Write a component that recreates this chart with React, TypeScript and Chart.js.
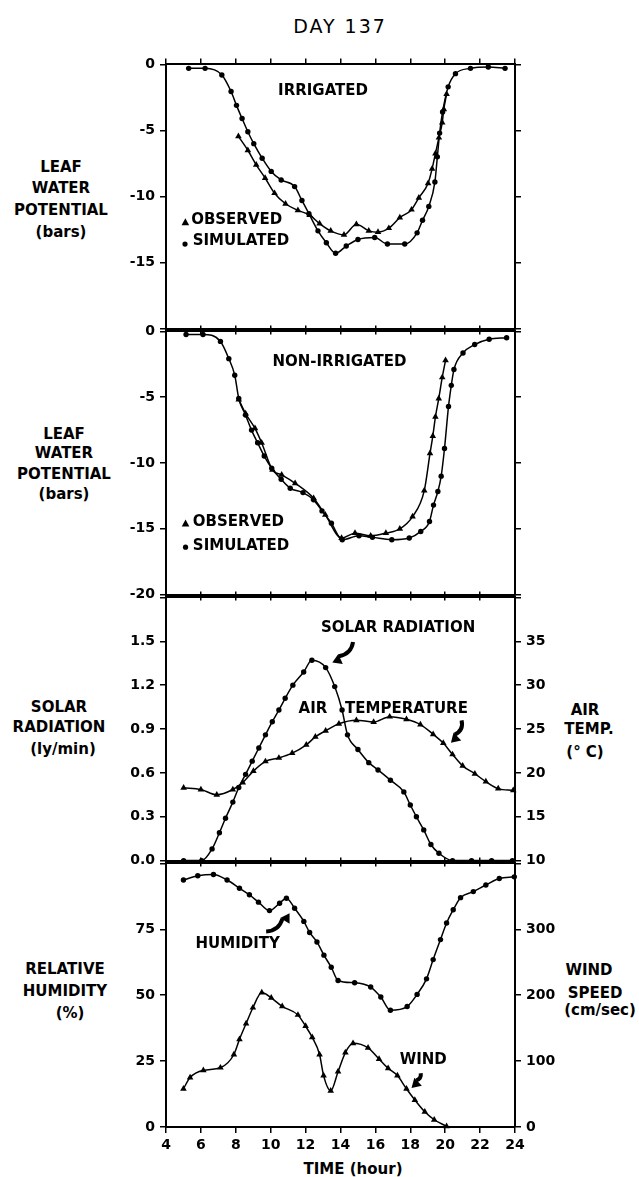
import React, { useEffect, useRef } from "react";
import { Chart, registerables } from "chart.js";
Chart.register(...registerables);

const FONT = '"DejaVu Sans", sans-serif';

// ---------- axes ----------
const HOUR_TICKS = [4, 6, 8, 10, 12, 14, 16, 18, 20, 22, 24];
const HOUR_LABELS = ["4", "6", "8", "10", "12", "14", "16", "18", "20", "22", "24"];
const LWP_TICKS = [0, -5, -10, -15, -20];
const LWP_LABELS_IRR = ["0", "-5", "-10", "-15", ""];
const LWP_LABELS_NON = ["0", "-5", "-10", "-15", "-20"];
const SOLAR_TICKS = [0, 0.3, 0.6, 0.9, 1.2, 1.5, 1.8];
const SOLAR_LABELS = ["0.0", "0.3", "0.6", "0.9", "1.2", "1.5", ""];
const TEMP_TICKS = [10, 15, 20, 25, 30, 35, 40];
const TEMP_LABELS = ["10", "15", "20", "25", "30", "35", ""];
const RH_TICKS = [0, 25, 50, 75, 100];
const RH_LABELS = ["0", "25", "50", "75", ""];
const WIND_TICKS = [0, 100, 200, 300, 400];
const WIND_LABELS = ["0", "100", "200", "300", ""];

// ---------- panel 1: irrigated ----------
const irrSimHour = [5.3, 6.24, 7.2, 7.73, 8.04, 8.36, 8.69, 9.03, 9.51, 10.03, 10.6, 11.37, 11.79, 12.19, 12.71, 13.19, 13.72, 14.33, 15.0, 15.96, 16.69, 17.68, 18.39, 18.7, 19.06, 19.41, 19.55, 19.68, 19.85, 20.17, 20.59, 21.45, 22.47, 23.43];
const irrSimLwp = [-0.3, -0.3, -0.8, -2.05, -3.1, -4.1, -5.1, -6.0, -7.1, -8.1, -8.75, -9.25, -10.3, -11.3, -12.6, -13.5, -14.3, -13.75, -13.25, -13.1, -13.6, -13.6, -12.75, -11.8, -10.75, -8.9, -7.0, -5.2, -3.6, -1.7, -0.7, -0.3, -0.2, -0.3];
const irrObsHour = [8.15, 8.69, 9.17, 9.68, 10.22, 10.85, 11.56, 12.23, 12.8, 13.44, 14.2, 14.91, 15.62, 16.15, 16.77, 17.4, 18.07, 18.49, 19.02, 19.25, 19.44, 19.64, 19.83, 19.92, 20.08];
const irrObsLwp = [-5.45, -6.5, -7.6, -8.6, -9.75, -10.55, -11.05, -11.4, -12.05, -12.6, -12.9, -12.1, -12.6, -12.7, -12.4, -11.6, -11.0, -10.1, -9.0, -7.9, -6.75, -5.55, -4.4, -3.4, -2.25];

// ---------- panel 2: non-irrigated ----------
const nonSimHour = [5.15, 6.12, 7.12, 7.6, 7.94, 8.17, 8.56, 8.9, 9.25, 9.63, 10.06, 10.6, 11.12, 11.85, 12.46, 12.94, 13.48, 14.1, 15.06, 15.83, 16.94, 17.94, 18.6, 19.1, 19.33, 19.58, 19.77, 19.96, 20.19, 20.35, 20.5, 21.02, 21.69, 22.52, 23.52];
const nonSimLwp = [-0.23, -0.23, -0.76, -2.07, -3.33, -5.1, -6.36, -7.5, -8.46, -9.47, -10.4, -11.24, -11.92, -12.25, -12.8, -13.64, -14.57, -15.83, -15.53, -15.65, -15.83, -15.7, -15.2, -14.44, -13.2, -12.17, -11.0, -8.9, -5.7, -4.1, -2.9, -1.64, -1.0, -0.6, -0.48];
const nonObsHour = [8.17, 8.56, 9.1, 9.48, 10.1, 10.63, 11.4, 12.46, 13.13, 14.06, 14.83, 15.73, 16.6, 17.4, 18.13, 18.8, 19.13, 19.29, 19.44, 19.63, 19.83, 20.02];
const nonObsLwp = [-5.18, -6.24, -7.37, -8.46, -10.53, -10.9, -11.54, -12.68, -13.94, -15.7, -15.33, -15.53, -15.33, -15.0, -14.07, -12.1, -9.27, -7.95, -6.49, -5.1, -3.5, -2.2];

// ---------- panel 3: solar radiation & air temperature ----------
const solarHour = [5.01, 6.05, 6.64, 7.06, 7.41, 7.83, 8.17, 8.56, 8.94, 9.32, 9.7, 10.09, 10.47, 10.83, 11.27, 11.89, 12.36, 13.15, 13.67, 14.09, 14.4, 15.0, 15.62, 16.15, 16.86, 17.63, 18.0, 18.35, 18.77, 19.18, 19.64, 20.42, 21.51, 22.66, 23.85];
const solarLy = [0, 0, 0.08, 0.19, 0.29, 0.4, 0.5, 0.59, 0.68, 0.77, 0.86, 0.95, 1.03, 1.11, 1.2, 1.29, 1.37, 1.32, 1.19, 1.03, 0.86, 0.76, 0.67, 0.62, 0.55, 0.47, 0.38, 0.3, 0.21, 0.11, 0.05, 0, 0, 0, 0];
const tempHour = [5.01, 6.0, 6.91, 7.83, 8.4, 9.01, 9.7, 10.47, 11.23, 12.04, 12.56, 13.15, 13.91, 14.91, 15.9, 16.82, 17.78, 18.58, 19.31, 19.89, 20.42, 21.0, 21.7, 22.33, 23.04, 23.9];
const tempC = [18.3, 18.1, 17.5, 18.1, 18.9, 20.2, 21.3, 21.7, 22.25, 23.2, 24.1, 24.8, 25.6, 26.0, 25.8, 26.4, 26.1, 25.5, 24.4, 23.4, 22.1, 20.8, 19.9, 19.0, 18.2, 18.0];

// ---------- panel 4: humidity & wind ----------
const rhHour = [5.0, 5.82, 6.72, 7.5, 8.21, 8.78, 9.3, 9.93, 10.51, 10.9, 11.37, 11.9, 12.23, 12.65, 13.05, 13.47, 13.86, 14.81, 15.73, 16.31, 16.86, 17.82, 18.39, 18.93, 19.31, 19.73, 20.08, 20.46, 20.88, 21.61, 22.33, 23.1, 23.96];
const rhPct = [93.7, 95.3, 95.8, 93.7, 90.6, 88.1, 85.3, 82.1, 84.9, 86.8, 83.0, 78.0, 73.8, 70.2, 65.2, 60.6, 55.6, 54.7, 53.1, 49.3, 44.3, 45.7, 50.3, 56.2, 63.5, 71.1, 77.4, 82.4, 87.0, 89.3, 91.8, 94.3, 94.9];
const windHour = [5.0, 5.38, 6.14, 7.12, 7.89, 8.21, 8.59, 8.98, 9.49, 10.03, 10.66, 11.56, 12.0, 12.38, 12.8, 13.03, 13.44, 13.86, 14.28, 14.72, 15.58, 16.21, 16.73, 17.26, 17.78, 18.26, 18.83, 19.37, 20.08];
const windCms = [58, 75, 86, 90, 110, 133, 157, 181, 204, 196, 183, 170, 153, 136, 110, 78, 55, 84, 113, 127, 120, 103, 89, 78, 58, 41, 23, 11, 1];

// ---------- helpers ----------
const pts = (xs: number[], ys: number[]) => xs.map((x, i) => ({ x, y: ys[i] }));

function series(xs: number[], ys: number[], style: "circle" | "triangle", axis = "y") {
  return {
    data: pts(xs, ys),
    yAxisID: axis,
    borderColor: "#000",
    backgroundColor: "#000",
    borderWidth: 1.5,
    pointStyle: style,
    pointRadius: style === "circle" ? 2.7 : 3.8,
    pointBorderWidth: 0,
    pointBackgroundColor: "#000",
    cubicInterpolationMode: "monotone",
    fill: false,
    clip: 10,
  };
}

function yAxis(position: string, min: number, max: number, ticks: number[], labels: string[] | null) {
  return {
    type: "linear",
    position,
    min,
    max,
    afterBuildTicks: (s: any) => {
      s.ticks = ticks.map((v) => ({ value: v }));
    },
    afterFit: (s: any) => {
      s.width = 40;
    },
    ticks: {
      display: !!labels,
      autoSkip: false,
      color: "#000",
      padding: 5,
      font: { family: FONT, size: 14, weight: "bold" },
      callback: (v: number) => {
        const i = ticks.indexOf(v);
        return labels && i >= 0 ? labels[i] : "";
      },
    },
    grid: { drawOnChartArea: false, drawTicks: true, tickLength: 6, color: "#000", lineWidth: 1.5 },
    border: { display: true, color: "#000", width: 2 },
  };
}

function xAxis(position: string, showLabels: boolean, height: number) {
  return {
    type: "linear",
    position,
    min: 4,
    max: 24,
    afterBuildTicks: (s: any) => {
      s.ticks = HOUR_TICKS.map((v) => ({ value: v }));
    },
    afterFit: (s: any) => {
      s.height = height;
    },
    ticks: {
      display: showLabels,
      autoSkip: false,
      maxRotation: 0,
      color: "#000",
      padding: 4,
      font: { family: FONT, size: 14, weight: "bold" },
      callback: (v: number) => {
        const i = HOUR_TICKS.indexOf(v);
        return i >= 0 ? HOUR_LABELS[i] : "";
      },
    },
    grid: { drawOnChartArea: false, drawTicks: true, tickLength: 6, color: "#000", lineWidth: 1.5 },
    border: { display: true, color: "#000", width: 2 },
  };
}

type Note =
  | { kind: "text"; x: number; y: number; text: string; align?: CanvasTextAlign }
  | { kind: "marker"; x: number; y: number; shape: "circle" | "triangle" }
  | { kind: "arrow"; x1: number; y1: number; x2: number; y2: number; bend: number };

function notesPlugin(notes: Note[]) {
  return {
    id: "notes",
    afterDatasetsDraw(chart: any) {
      const ctx: CanvasRenderingContext2D = chart.ctx;
      const xs = chart.scales.x;
      const ys = chart.scales.y;
      const px = (v: number) => xs.getPixelForValue(v);
      const py = (v: number) => ys.getPixelForValue(v);
      ctx.save();
      ctx.fillStyle = "#000";
      ctx.strokeStyle = "#000";
      for (const n of notes) {
        if (n.kind === "text") {
          ctx.font = `bold 15px ${FONT}`;
          ctx.textAlign = n.align || "center";
          ctx.textBaseline = "middle";
          ctx.fillText(n.text, px(n.x), py(n.y));
        } else if (n.kind === "marker") {
          const cx = px(n.x);
          const cy = py(n.y);
          ctx.beginPath();
          if (n.shape === "circle") {
            ctx.arc(cx, cy, 2.6, 0, Math.PI * 2);
          } else {
            ctx.moveTo(cx, cy - 4);
            ctx.lineTo(cx + 3.8, cy + 3);
            ctx.lineTo(cx - 3.8, cy + 3);
            ctx.closePath();
          }
          ctx.fill();
        } else {
          const x1 = px(n.x1), y1 = py(n.y1), x2 = px(n.x2), y2 = py(n.y2);
          const dx = x2 - x1, dy = y2 - y1;
          const len = Math.hypot(dx, dy);
          const ux = dx / len, uy = dy / len;
          const head = 9;
          const bx = x2 - ux * head, by = y2 - uy * head;
          const cxp = (x1 + bx) / 2 - uy * n.bend * len;
          const cyp = (y1 + by) / 2 + ux * n.bend * len;
          ctx.lineWidth = 4;
          ctx.lineCap = "butt";
          ctx.beginPath();
          ctx.moveTo(x1, y1);
          ctx.quadraticCurveTo(cxp, cyp, bx, by);
          ctx.stroke();
          let hx = x2 - cxp, hy = y2 - cyp;
          const hl = Math.hypot(hx, hy);
          hx /= hl; hy /= hl;
          const hbx = x2 - hx * head, hby = y2 - hy * head;
          ctx.beginPath();
          ctx.moveTo(x2, y2);
          ctx.lineTo(hbx - hy * 5.5, hby + hx * 5.5);
          ctx.lineTo(hbx + hy * 5.5, hby - hx * 5.5);
          ctx.closePath();
          ctx.fill();
        }
      }
      ctx.restore();
    },
  };
}

type PanelCfg = {
  top: number;
  height: number;
  bottomAxis: number;
  showX: boolean;
  scales: any;
  datasets: any[];
  notes: Note[];
};

const PLOT_TOPS = [63, 330, 596, 862];
const PLOT_BOTTOMS = [330, 596, 862, 1127];

const PANELS: PanelCfg[] = [
  {
    top: PLOT_TOPS[0] - 12,
    height: PLOT_BOTTOMS[0] - PLOT_TOPS[0] + 24,
    bottomAxis: 12,
    showX: false,
    scales: {
      y: yAxis("left", -20, 0, LWP_TICKS, LWP_LABELS_IRR),
      yR: yAxis("right", -20, 0, LWP_TICKS, null),
    },
    datasets: [
      series(irrSimHour, irrSimLwp, "circle"),
      series(irrObsHour, irrObsLwp, "triangle"),
    ],
    notes: [
      { kind: "text", x: 13.0, y: -2.0, text: "IRRIGATED" },
      { kind: "marker", x: 5.11, y: -11.95, shape: "triangle" },
      { kind: "text", x: 5.44, y: -11.8, text: "OBSERVED", align: "left" },
      { kind: "marker", x: 5.09, y: -13.6, shape: "circle" },
      { kind: "text", x: 5.53, y: -13.4, text: "SIMULATED", align: "left" },
    ],
  },
  {
    top: PLOT_TOPS[1] - 12,
    height: PLOT_BOTTOMS[1] - PLOT_TOPS[1] + 24,
    bottomAxis: 12,
    showX: false,
    scales: {
      y: yAxis("left", -20, 0, LWP_TICKS, LWP_LABELS_NON),
      yR: yAxis("right", -20, 0, LWP_TICKS, null),
    },
    datasets: [
      series(nonSimHour, nonSimLwp, "circle"),
      series(nonObsHour, nonObsLwp, "triangle"),
    ],
    notes: [
      { kind: "text", x: 13.94, y: -2.32, text: "NON-IRRIGATED" },
      { kind: "marker", x: 5.12, y: -14.6, shape: "triangle" },
      { kind: "text", x: 5.54, y: -14.5, text: "OBSERVED", align: "left" },
      { kind: "marker", x: 5.12, y: -16.4, shape: "circle" },
      { kind: "text", x: 5.54, y: -16.3, text: "SIMULATED", align: "left" },
    ],
  },
  {
    top: PLOT_TOPS[2] - 12,
    height: PLOT_BOTTOMS[2] - PLOT_TOPS[2] + 24,
    bottomAxis: 12,
    showX: false,
    scales: {
      y: yAxis("left", 0, 1.8, SOLAR_TICKS, SOLAR_LABELS),
      yR: yAxis("right", 10, 40, TEMP_TICKS, TEMP_LABELS),
    },
    datasets: [
      series(solarHour, solarLy, "circle", "y"),
      series(tempHour, tempC, "triangle", "yR"),
    ],
    notes: [
      { kind: "text", x: 17.3, y: 1.587, text: "SOLAR RADIATION" },
      { kind: "arrow", x1: 14.72, y1: 1.495, x2: 13.53, y2: 1.354, bend: -0.25 },
      { kind: "text", x: 12.42, y: 1.034, text: "AIR" },
      { kind: "text", x: 17.78, y: 1.034, text: "TEMPERATURE" },
      { kind: "arrow", x1: 20.94, y1: 0.959, x2: 20.33, y2: 0.806, bend: -0.25 },
    ],
  },
  {
    top: PLOT_TOPS[3] - 12,
    height: PLOT_BOTTOMS[3] - PLOT_TOPS[3] + 12 + 50,
    bottomAxis: 50,
    showX: true,
    scales: {
      y: yAxis("left", 0, 100, RH_TICKS, RH_LABELS),
      yR: yAxis("right", 0, 400, WIND_TICKS, WIND_LABELS),
    },
    datasets: [
      series(rhHour, rhPct, "circle", "y"),
      series(windHour, windCms, "triangle", "yR"),
    ],
    notes: [
      { kind: "text", x: 8.11, y: 69.2, text: "HUMIDITY" },
      { kind: "arrow", x1: 9.74, y1: 74.2, x2: 11.08, y2: 81.1, bend: 0.25 },
      { kind: "text", x: 18.74, y: 25.2, text: "WIND" },
      { kind: "arrow", x1: 18.6, y1: 20.4, x2: 18.07, y2: 14.8, bend: -0.2 },
    ],
  },
];

const SIDE_LABELS = [
  { t: "LEAF", x: 61, y: 167 },
  { t: "WATER", x: 61, y: 188 },
  { t: "POTENTIAL", x: 61, y: 210 },
  { t: "(bars)", x: 61, y: 232 },
  { t: "LEAF", x: 64, y: 434 },
  { t: "WATER", x: 64, y: 453 },
  { t: "POTENTIAL", x: 64, y: 474 },
  { t: "(bars)", x: 64, y: 494 },
  { t: "SOLAR", x: 59, y: 707 },
  { t: "RADIATION", x: 59, y: 727 },
  { t: "(ly/min)", x: 63, y: 749 },
  { t: "AIR", x: 585, y: 710 },
  { t: "TEMP.", x: 589, y: 729 },
  { t: "(° C)", x: 585, y: 752 },
  { t: "RELATIVE", x: 65, y: 969 },
  { t: "HUMIDITY", x: 65, y: 991 },
  { t: "(%)", x: 70, y: 1013 },
  { t: "WIND", x: 589, y: 970 },
  { t: "SPEED", x: 595, y: 993 },
  { t: "(cm/sec)", x: 600, y: 1010 },
  { t: "TIME (hour)", x: 353, y: 1169 },
];

function Panel({ cfg }: { cfg: PanelCfg }) {
  const ref = useRef<HTMLCanvasElement>(null);
  useEffect(() => {
    const chart = new Chart(ref.current as HTMLCanvasElement, {
      type: "line",
      data: { datasets: cfg.datasets as any },
      options: {
        animation: false,
        responsive: false,
        maintainAspectRatio: false,
        devicePixelRatio: 1,
        layout: { padding: { left: 126, right: 84, top: 0, bottom: 0 } },
        plugins: { legend: { display: false }, tooltip: { enabled: false } },
        scales: {
          x: xAxis("bottom", cfg.showX, cfg.bottomAxis),
          xTop: xAxis("top", false, 12),
          ...cfg.scales,
        },
      } as any,
      plugins: [notesPlugin(cfg.notes)],
    });
    return () => chart.destroy();
  }, []);
  return (
    <canvas
      ref={ref}
      width={639}
      height={cfg.height}
      style={{ position: "absolute", left: 0, top: cfg.top, width: 639, height: cfg.height }}
    />
  );
}

export default function App() {
  return (
    <div
      style={{
        position: "absolute",
        left: 0,
        top: 0,
        width: 639,
        height: 1177,
        background: "#fff",
        overflow: "hidden",
        fontFamily: FONT,
      }}
    >
      <div
        style={{
          position: "absolute",
          left: 340,
          top: 26,
          transform: "translate(-50%, -50%)",
          fontSize: 19,
          letterSpacing: 2,
          whiteSpace: "nowrap",
          lineHeight: 1,
        }}
      >
        DAY 137
      </div>
      {SIDE_LABELS.map((l, i) => (
        <div
          key={i}
          style={{
            position: "absolute",
            left: l.x,
            top: l.y,
            transform: "translate(-50%, -50%)",
            fontSize: 15,
            fontWeight: "bold",
            whiteSpace: "nowrap",
            lineHeight: 1,
          }}
        >
          {l.t}
        </div>
      ))}
      {PANELS.map((p, i) => (
        <Panel key={i} cfg={p} />
      ))}
    </div>
  );
}
